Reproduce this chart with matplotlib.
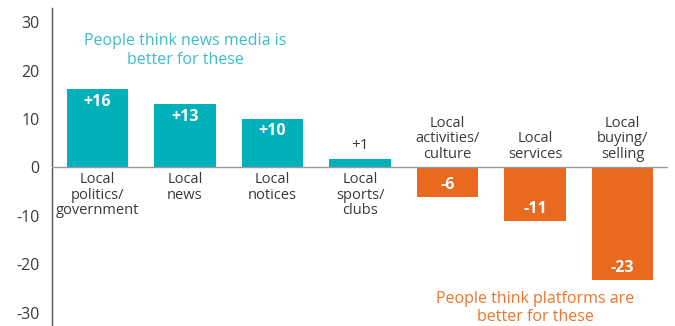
import matplotlib.pyplot as plt

# data
categories = ['Local\npolitics/\ngovernment', 'Local\nnews', 'Local\nnotices',
              'Local\nsports/\nclubs', 'Local\nactivities/\nculture',
              'Local\nservices', 'Local\nbuying/\nselling']
values = [16.2, 13.1, 10.1, 1.7, -6.1, -11.1, -23.2]
value_labels = ['+16', '+13', '+10', '+1', '-6', '-11', '-23']
yticks = [-30, -20, -10, 0, 10, 20, 30]

teal = '#00b1bc'
orange = '#e9691e'
text_col = '#3a3a3a'

plt.rcParams['font.family'] = ['Open Sans', 'DejaVu Sans']

fig = plt.figure(figsize=(6.75, 3.26), dpi=100)
ax = fig.add_axes([52 / 675, 0, 616 / 675, 318 / 326])

x = list(range(len(values)))
colors = [teal if v > 0 else orange for v in values]
ax.bar(x, values, width=0.7, color=colors, zorder=2)
ax.axhline(0, color='#999999', lw=1, zorder=3)

for i, v in enumerate(values):
    if v > 5:
        ax.text(i, v - 1.0, value_labels[i], ha='center', va='top', color='white',
                fontsize=11.5, fontweight='bold')
    elif v > 0:
        ax.text(i, v + 1.3, value_labels[i], ha='center', va='bottom', color=text_col,
                fontsize=11)
    else:
        ax.text(i, v + 0.9, value_labels[i], ha='center', va='bottom', color='white',
                fontsize=11.5, fontweight='bold')
    # category labels
    if v > 0:
        ax.text(i, -1.0, categories[i], ha='center', va='top', color=text_col,
                fontsize=10.5, linespacing=1.02)
    else:
        ax.text(i, 1.2, categories[i], ha='center', va='bottom', color=text_col,
                fontsize=10.5, linespacing=1.02)

ax.text(1.0, 24.2, 'People think news media is\nbetter for these', ha='center',
        va='center', color='#3dbdc8', fontsize=11.5, linespacing=1.25)
ax.text(5.0, -29.0, 'People think platforms are\nbetter for these', ha='center',
        va='center', color='#ef7428', fontsize=11.5, linespacing=1.1)

ax.set_xlim(-0.52, 6.52)
ax.set_ylim(-32.7, 32.9)
ax.set_yticks(yticks)
ax.set_yticklabels([str(t) for t in yticks], fontsize=11.5, color=text_col)
ax.set_xticks([])
ax.tick_params(axis='y', length=0, pad=9)
for s in ['top', 'right', 'bottom']:
    ax.spines[s].set_visible(False)
ax.spines['left'].set_color('#555555')
ax.spines['left'].set_linewidth(1)

plt.savefig('out.png', dpi=100)
